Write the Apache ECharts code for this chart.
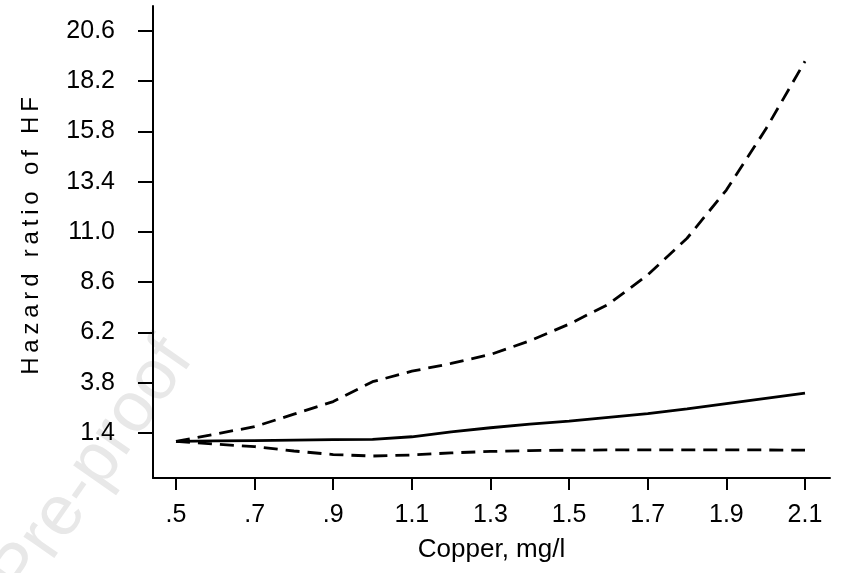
<!DOCTYPE html>
<html>
<head>
<meta charset="utf-8">
<script src="https://cdn.jsdelivr.net/npm/echarts@6/dist/echarts.min.js"></script>
<style>
  html, body { margin: 0; padding: 0; background: #fff; }
  #chart { width: 841px; height: 573px; }
</style>
</head>
<body>
<div id="chart"></div>
<script>
// copper level (mg/l)
var copper = [0.5, 0.6, 0.7, 0.8, 0.9, 1.0, 1.1, 1.2, 1.3, 1.4, 1.5, 1.6, 1.7, 1.8, 1.9, 2.0, 2.1];
// hazard ratio and 95% CI
var hr    = [1.0, 1.02, 1.04, 1.06, 1.08, 1.1, 1.22, 1.45, 1.65, 1.82, 1.97, 2.15, 2.32, 2.55, 2.8, 3.05, 3.3];
var upper = [1.0, 1.35, 1.7, 2.3, 2.9, 3.85, 4.35, 4.72, 5.15, 5.8, 6.6, 7.55, 8.95, 10.7, 13.0, 15.9, 19.15];
var lower = [1.0, 0.87, 0.75, 0.54, 0.37, 0.3, 0.35, 0.45, 0.52, 0.56, 0.58, 0.59, 0.59, 0.59, 0.59, 0.59, 0.58];

var xTicks = [0.5, 0.7, 0.9, 1.1, 1.3, 1.5, 1.7, 1.9, 2.1];
var yTicks = [1.4, 3.8, 6.2, 8.6, 11.0, 13.4, 15.8, 18.2, 20.6];

function pairs(ys) {
  return copper.map(function(x, i) { return [x, ys[i]]; });
}

var font = 'Liberation Sans, Arial, sans-serif';
// y title is drawn letter-spaced in the original
var yTitle = 'Hazard ratio of HF'.split('').join('\u2009');

var chart = echarts.init(document.getElementById('chart'));
chart.setOption({
  animation: false,
  backgroundColor: '#fff',
  graphic: [{
    type: 'text',
    x: 178, y: 347,
    rotation: 0.96,
    style: {
      text: 'Journal Pre-proof',
      font: '71px ' + font,
      fill: '#e8e8e8',
      align: 'right',
      verticalAlign: 'middle'
    },
    z: -10
  }],
  grid: { left: 153, right: 11, top: 6, bottom: 95, outerBoundsMode: 'none' },
  xAxis: {
    type: 'value',
    min: 0.4415,
    max: 2.1636,
    name: 'Copper, mg/l',
    nameLocation: 'middle',
    nameGap: 59,
    nameMoveOverlap: false,
    nameTextStyle: { fontFamily: font, fontSize: 26, color: '#000' },
    axisLine: { onZero: false, lineStyle: { color: '#000', width: 2 } },
    axisTick: { customValues: xTicks, length: 12, lineStyle: { color: '#000', width: 2 } },
    axisLabel: {
      customValues: xTicks,
      margin: 25,
      fontFamily: font, fontSize: 25, color: '#000',
      formatter: function(v) { return v.toFixed(1).replace(/^0/, ''); }
    },
    splitLine: { show: false }
  },
  yAxis: {
    type: 'value',
    min: -0.749,
    max: 21.79,
    name: yTitle,
    nameLocation: 'middle',
    nameGap: 110,
    nameRotate: 90,
    nameMoveOverlap: false,
    nameTextStyle: { fontFamily: font, fontSize: 24, color: '#000', padding: [0, 0, 0, 12] },
    axisLine: { show: true, onZero: false, lineStyle: { color: '#000', width: 2 } },
    axisTick: { show: true, customValues: yTicks, length: 15, lineStyle: { color: '#000', width: 2 } },
    axisLabel: {
      customValues: yTicks,
      margin: 38,
      fontFamily: font, fontSize: 25, color: '#000',
      formatter: function(v) { return v.toFixed(1); }
    },
    splitLine: { show: false }
  },
  series: [
    {
      type: 'line', data: pairs(hr), showSymbol: false,
      lineStyle: { color: '#000', width: 2.8 }
    },
    {
      type: 'line', data: pairs(upper), showSymbol: false,
      lineStyle: { color: '#000', width: 2.8, type: [14, 8] }
    },
    {
      type: 'line', data: pairs(lower), showSymbol: false,
      lineStyle: { color: '#000', width: 2.8, type: [14, 8] }
    }
  ]
});
</script>
</body>
</html>
